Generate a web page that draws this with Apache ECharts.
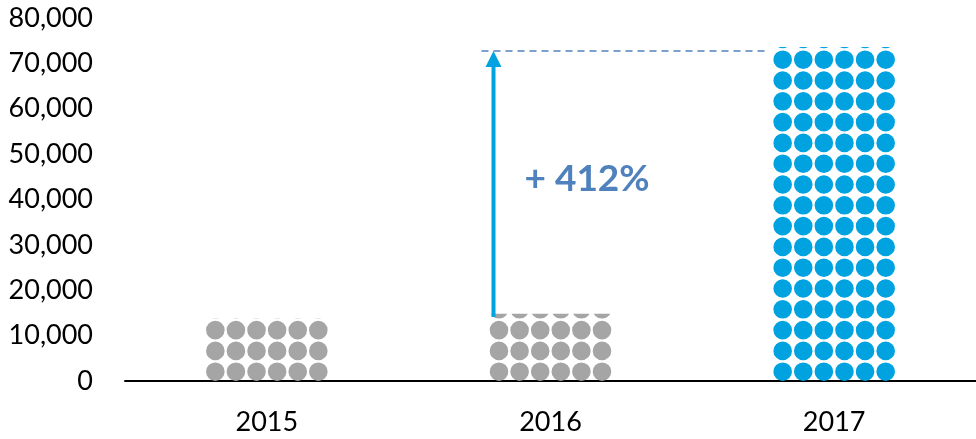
<!DOCTYPE html>
<html>
<head>
<meta charset="utf-8">
<script src="https://cdn.jsdelivr.net/npm/echarts@6/dist/echarts.min.js"></script>
<style>
html,body{margin:0;padding:0;background:#fff;}
#main{width:976px;height:439px;}
</style>
</head>
<body>
<div id="main"></div>
<script>
// ---- data ----
const years = ['2015', '2016', '2017'];
const visitors = [13800, 14800, 73600];
const yTicks = [0, 10000, 20000, 30000, 40000, 50000, 60000, 70000, 80000];
const arrowFrom = 14100;   // start of growth arrow (2016 level)
const arrowTo = 72700;     // 2017 level (dashed reference line)
const growthLabel = '+ 412%';
const labelLevel = 44500;

// ---- style ----
const GRAY = '#A5A5A5';
const BLUE = '#00A3E0';
const NOTE = '#4F81BD';
const FONT = 'Lato';

// a row of six circles as one symbol
const R = 9.3, PITCH = 20.6, COLS = 6;
let rowPath = '';
for (let i = 0; i < COLS; i++) {
  const cx = R + PITCH * i, cy = R;
  rowPath += `M${cx - R},${cy} A${R},${R} 0 1,0 ${cx + R},${cy} A${R},${R} 0 1,0 ${cx - R},${cy} Z `;
}
const symW = 2 * R + PITCH * (COLS - 1);
const symH = 2 * R;
const ROW_PITCH = 20.8, ROWS_REF = 18;

const chart = echarts.init(document.getElementById('main'), null, {renderer: 'canvas'});
const gridTop = 18, gridBottom = 58;
const plotH = 439 - gridTop - gridBottom;
const pxPerVal = plotH / 80000;
const boundLen = symH + (ROWS_REF - 1) * ROW_PITCH;

chart.setOption({
  animation: false,
  grid: {left: 125, right: 0, top: gridTop, bottom: gridBottom},
  xAxis: {
    type: 'category',
    data: years,
    axisLine: {lineStyle: {color: '#000', width: 2}},
    axisTick: {show: false},
    axisLabel: {color: '#000', fontFamily: FONT, fontSize: 27, margin: 28}
  },
  yAxis: {
    type: 'value',
    min: yTicks[0],
    max: yTicks[yTicks.length - 1],
    interval: yTicks[1] - yTicks[0],
    splitLine: {show: false},
    axisLine: {show: false},
    axisTick: {show: false},
    axisLabel: {
      color: '#000', fontFamily: FONT, fontSize: 27, margin: 32,
      formatter: v => v.toLocaleString('en-US')
    }
  },
  series: [{
    type: 'pictorialBar',
    data: visitors,
    symbol: 'path://' + rowPath,
    symbolSize: [symW, symH],
    symbolRepeat: true,
    symbolClip: true,
    symbolMargin: 1.1,
    symbolBoundingData: boundLen / pxPerVal,
    symbolPosition: 'start',
    itemStyle: {color: p => (p.dataIndex === years.length - 1 ? BLUE : GRAY)},
    barWidth: symW
  }]
});

function drawNotes() {
  const x16 = chart.convertToPixel({xAxisIndex: 0}, years[1]);
  const x17 = chart.convertToPixel({xAxisIndex: 0}, years[2]);
  const yFrom = chart.convertToPixel({yAxisIndex: 0}, arrowFrom);
  const yTo = chart.convertToPixel({yAxisIndex: 0}, arrowTo);
  const yLab = chart.convertToPixel({yAxisIndex: 0}, labelLevel);
  const ax = x16 - 57;
  const headH = 16, headW = 16;
  chart.setOption({
    graphic: [
      {type: 'line', shape: {x1: x16 - 69, y1: yTo, x2: x17 - 69, y2: yTo},
       style: {stroke: NOTE, lineWidth: 1.5, lineDash: [7, 5]}, z: 10},
      {type: 'line', shape: {x1: ax, y1: yFrom, x2: ax, y2: yTo + headH - 1},
       style: {stroke: BLUE, lineWidth: 4}, z: 11},
      {type: 'polygon', shape: {points: [[ax, yTo], [ax - headW / 2, yTo + headH], [ax + headW / 2, yTo + headH]]},
       style: {fill: BLUE}, z: 12},
      {type: 'text', x: x16 - 26, y: yLab,
       style: {text: growthLabel, fill: NOTE, font: `bold 37px ${FONT}`, textAlign: 'left', textVerticalAlign: 'middle'}, z: 12}
    ]
  });
}
drawNotes();
</script>
</body>
</html>
